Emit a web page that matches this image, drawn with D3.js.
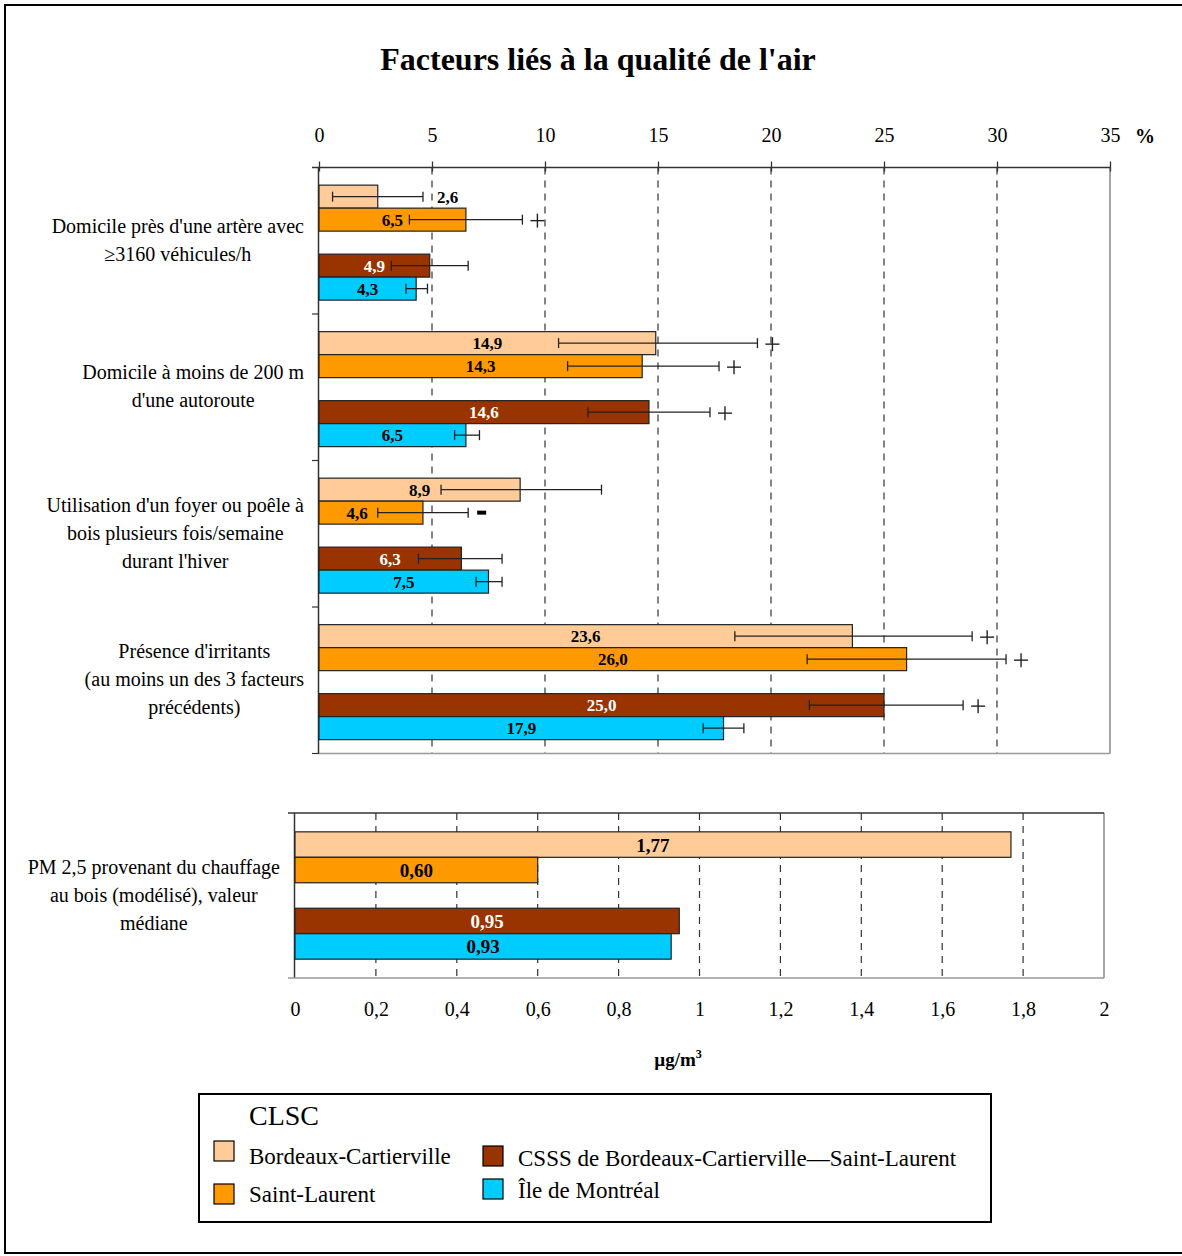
<!DOCTYPE html>
<html>
<head>
<meta charset="utf-8">
<script src="https://cdn.jsdelivr.net/npm/d3@7"></script>
<style>
  body { margin: 0; background: #fff; }
  text { font-family: "Liberation Serif", "Times New Roman", serif; }
</style>
</head>
<body>
<div id="chart"></div>
<script>
/* Facteurs liés à la qualité de l'air */

// categories (top chart), one label per group, lines split on "|"
const categories = [
  "Domicile près d'une artère avec|≥3160 véhicules/h",
  "Domicile à moins de 200 m|d'une autoroute",
  "Utilisation d'un foyer ou poêle à|bois plusieurs fois/semaine|durant l'hiver",
  "Présence d'irritants|(au moins un des 3 facteurs|précédents)"
];
const seriesNames = ["Bordeaux-Cartierville", "Saint-Laurent", "CSSS de Bordeaux-Cartierville\u2014Saint-Laurent", "Île de Montréal"];
const seriesColors = ["#FFCC99", "#FF9900", "#993300", "#00CCFF"];
const labelColors = ["#000", "#000", "#fff", "#000"];

// values (%)
const bcValues   = [2.6, 14.9, 8.9, 23.6];
const slValues   = [6.5, 14.3, 4.6, 26.0];
const csssValues = [4.9, 14.6, 6.3, 25.0];
const mtlValues  = [4.3, 6.5, 7.5, 17.9];

// confidence intervals
const bcLow    = [0.6, 10.6, 5.4, 18.4];
const bcHigh   = [4.6, 19.4, 12.5, 28.9];
const slLow    = [4.0, 11.0, 2.6, 21.6];
const slHigh   = [9.0, 17.7, 6.6, 30.4];
const csssLow  = [3.2, 11.9, 4.4, 21.7];
const csssHigh = [6.6, 17.3, 8.1, 28.5];
const mtlLow   = [3.85, 6.0, 6.95, 17.0];
const mtlHigh  = [4.8, 7.1, 8.1, 18.8];

// significance marks vs Montréal
const bcSig   = ["", "+", "", "+"];
const slSig   = ["+", "+", "-", "+"];
const csssSig = ["", "+", "", "+"];
const mtlSig  = ["", "", "", ""];

const pctTicks = [0, 5, 10, 15, 20, 25, 30, 35];

// bottom chart (µg/m3)
const pmLabel = "PM 2,5 provenant du chauffage|au bois (modélisé), valeur|médiane";
const pmValues = [1.77, 0.60, 0.95, 0.93];
const pmTicks = [0, 0.2, 0.4, 0.6, 0.8, 1, 1.2, 1.4, 1.6, 1.8, 2];

const width = 1182, height = 1256;
const fmt = d => String(d).replace(".", ",");
const fmt1 = d => d.toFixed(1).replace(".", ",");
const fmt2 = d => d.toFixed(2).replace(".", ",");

const svg = d3.select("#chart").append("svg")
  .attr("width", width).attr("height", height);

// outer frame
svg.append("rect")
  .attr("x", 5).attr("y", 5).attr("width", width - 4).attr("height", height - 8)
  .attr("fill", "none").attr("stroke", "#000").attr("stroke-width", 2);

svg.append("text")
  .attr("x", 598).attr("y", 70)
  .attr("text-anchor", "middle")
  .style("font-size", "32px").style("font-weight", "bold")
  .text("Facteurs liés à la qualité de l'air");

/* ---------- top chart ---------- */
const box1 = { x0: 319, x1: 1110, y0: 167.5, y1: 753.5 };

let x = d3.scaleLinear().domain([0, 35]).range([box1.x0, box1.x1]);
let yGroup = d3.scaleBand().domain(categories).range([box1.y0, box1.y1]);
let ySlot = d3.scaleBand().domain(["bc", "sl", "gap", "csss", "mtl"])
  .range([0, yGroup.bandwidth()]).paddingOuter(0.685).align(0.56);

// gridlines
svg.append("g").selectAll("line")
  .data(pctTicks.filter(d => d > 0 && d < 35))
  .join("line")
  .attr("x1", d => x(d)).attr("x2", d => x(d))
  .attr("y1", box1.y0).attr("y2", box1.y1)
  .attr("stroke", "#333").attr("stroke-width", 1.2)
  .attr("stroke-dasharray", "7,6");

// frame right/bottom
svg.append("line").attr("x1", box1.x1).attr("x2", box1.x1).attr("y1", box1.y0).attr("y2", box1.y1)
  .attr("stroke", "#888").attr("stroke-width", 1.5);
svg.append("line").attr("x1", box1.x0).attr("x2", box1.x1).attr("y1", box1.y1).attr("y2", box1.y1)
  .attr("stroke", "#999").attr("stroke-width", 1.5);

// top axis, ticks crossing the line
svg.append("g")
  .attr("transform", `translate(0,${box1.y0})`)
  .call(d3.axisTop(x).tickValues(pctTicks).tickSizeInner(6).tickSizeOuter(0).tickPadding(20).tickFormat(fmt))
  .call(g => g.select(".domain").attr("stroke", "#333").attr("stroke-width", 1.5)
    .attr("d", `M${box1.x0 - 7},0H${box1.x1}`))
  .call(g => g.selectAll(".tick line").attr("y2", -6).attr("y1", 4).attr("stroke", "#333").attr("stroke-width", 1.3))
  .call(g => g.selectAll("text").style("font-size", "20px").attr("fill", "#000")
    .style("font-family", "'Liberation Serif', serif"));

svg.append("text")
  .attr("x", 1145).attr("y", 143).attr("text-anchor", "middle")
  .style("font-size", "20px").style("font-weight", "bold").text("%");

// left axis with ticks at group boundaries
const bounds = categories.map(c => yGroup(c)).concat([box1.y1]);
svg.append("line").attr("x1", box1.x0 - 0.5).attr("x2", box1.x0 - 0.5)
  .attr("y1", box1.y0).attr("y2", box1.y1).attr("stroke", "#333").attr("stroke-width", 1.5);
svg.append("g").selectAll("line").data(bounds.slice(1)).join("line")
  .attr("x1", box1.x0 - 7).attr("x2", box1.x0).attr("y1", d => d).attr("y2", d => d)
  .attr("stroke", "#333").attr("stroke-width", 1.2);

// category labels: block right-aligned, lines centered in block
function blockLabel(parent, lines, rightX, cy) {
  const lh = 28;
  const g = parent.append("g");
  const t = g.selectAll("text").data(lines).join("text")
    .attr("y", (d, i) => cy + (i - (lines.length - 1) / 2) * lh + 6)
    .attr("text-anchor", "middle")
    .style("font-size", "20px")
    .text(d => d);
  let maxW = 0;
  t.each(function () { maxW = Math.max(maxW, this.getComputedTextLength()); });
  t.attr("x", rightX - maxW / 2);
}
categories.forEach(c => {
  blockLabel(svg, c.split("|"), 304, yGroup(c) + yGroup.bandwidth() / 2);
});

// bars
const slotKeys = ["bc", "sl", "csss", "mtl"];
const valueSets = [bcValues, slValues, csssValues, mtlValues];
const lowSets = [bcLow, slLow, csssLow, mtlLow];
const highSets = [bcHigh, slHigh, csssHigh, mtlHigh];
const sigSets = [bcSig, slSig, csssSig, mtlSig];

let rows = [];
categories.forEach((c, ci) => {
  slotKeys.forEach((k, si) => {
    rows.push({
      cat: c, slot: k, si: si,
      value: valueSets[si][ci], low: lowSets[si][ci], high: highSets[si][ci], sig: sigSets[si][ci]
    });
  });
});

const bh = ySlot.bandwidth();
let bar = svg.selectAll(".bar").data(rows).join("g").attr("class", "bar")
  .attr("transform", d => `translate(0,${yGroup(d.cat) + ySlot(d.slot)})`);

bar.append("rect")
  .attr("x", x(0)).attr("y", 0)
  .attr("width", d => x(d.value) - x(0)).attr("height", bh)
  .attr("fill", d => seriesColors[d.si])
  .attr("stroke", "#222").attr("stroke-width", 1.2);

// value labels: centred in the bar, moved clear of the error bar when needed
bar.append("text")
  .attr("y", bh / 2 + 6)
  .attr("fill", d => d.value < 3 ? "#000" : labelColors[d.si])
  .style("font-size", "17px").style("font-weight", "bold")
  .text(d => fmt1(d.value))
  .each(function (d) {
    const w = this.getComputedTextLength();
    let cx = (x(0) + x(d.value)) / 2;
    if (d.value < 3) cx = x(d.high) + 14 + w / 2;
    else if (cx + w / 2 > x(d.low) - 6) cx = x(d.low) - 10 - w / 2;
    d3.select(this).attr("x", cx).attr("text-anchor", "middle");
  });

// error bars
const eb = bar.append("g").attr("stroke", "#222").attr("stroke-width", 1.3);
eb.append("line").attr("x1", d => x(d.low)).attr("x2", d => x(d.high)).attr("y1", bh / 2).attr("y2", bh / 2);
eb.append("line").attr("x1", d => x(d.low)).attr("x2", d => x(d.low)).attr("y1", bh / 2 - 5).attr("y2", bh / 2 + 5);
eb.append("line").attr("x1", d => x(d.high)).attr("x2", d => x(d.high)).attr("y1", bh / 2 - 5).attr("y2", bh / 2 + 5);

// significance marks
const plus = bar.filter(d => d.sig === "+").append("g")
  .attr("transform", d => `translate(${x(d.high) + 15},${bh / 2 + 1})`)
  .attr("stroke", "#222").attr("stroke-width", 1.4);
plus.append("line").attr("x1", -7).attr("x2", 7).attr("y1", 0).attr("y2", 0);
plus.append("line").attr("x1", 0).attr("x2", 0).attr("y1", -7).attr("y2", 7);

bar.filter(d => d.sig === "-").append("rect")
  .attr("x", d => x(d.high) + 9).attr("y", bh / 2 - 2)
  .attr("width", 9).attr("height", 4).attr("fill", "#000");

/* ---------- bottom chart ---------- */
const box2 = { x0: 295, x1: 1104, y0: 813, y1: 978 };
let x2 = d3.scaleLinear().domain([0, 2]).range([box2.x0, box2.x1]);
let y2 = d3.scaleBand().domain(["bc", "sl", "gap", "csss", "mtl"])
  .range([box2.y0, box2.y1]).paddingOuter(0.74);

svg.append("g").selectAll("line")
  .data(pmTicks.filter(d => d > 0 && d < 2))
  .join("line")
  .attr("x1", d => x2(d)).attr("x2", d => x2(d))
  .attr("y1", box2.y0).attr("y2", box2.y1)
  .attr("stroke", "#333").attr("stroke-width", 1.2)
  .attr("stroke-dasharray", "7,6");

svg.append("line").attr("x1", box2.x1).attr("x2", box2.x1).attr("y1", box2.y0).attr("y2", box2.y1)
  .attr("stroke", "#888").attr("stroke-width", 1.5);
svg.append("line").attr("x1", box2.x0 - 7).attr("x2", box2.x1).attr("y1", box2.y0).attr("y2", box2.y0)
  .attr("stroke", "#333").attr("stroke-width", 1.5);
svg.append("line").attr("x1", box2.x0 - 0.5).attr("x2", box2.x0 - 0.5).attr("y1", box2.y0).attr("y2", box2.y1)
  .attr("stroke", "#333").attr("stroke-width", 1.5);

svg.append("g")
  .attr("transform", `translate(0,${box2.y1})`)
  .call(d3.axisBottom(x2).tickValues(pmTicks).tickSizeInner(0).tickSizeOuter(0).tickPadding(24).tickFormat(fmt))
  .call(g => g.select(".domain").attr("stroke", "#999").attr("stroke-width", 1.5)
    .attr("d", `M${box2.x0 - 7},0H${box2.x1}`))
  .call(g => g.selectAll("text").style("font-size", "20px").attr("fill", "#000")
    .style("font-family", "'Liberation Serif', serif"));

blockLabel(svg, pmLabel.split("|"), 280, (box2.y0 + box2.y1) / 2);

const pmRows = pmValues.map((v, i) => ({ slot: slotKeys[i], si: i, value: v }));
let pmBar = svg.selectAll(".pmbar").data(pmRows).join("g").attr("class", "pmbar")
  .attr("transform", d => `translate(0,${y2(d.slot)})`);
pmBar.append("rect")
  .attr("x", x2(0)).attr("width", d => x2(d.value) - x2(0))
  .attr("height", y2.bandwidth())
  .attr("fill", d => seriesColors[d.si])
  .attr("stroke", "#222").attr("stroke-width", 1.2);
pmBar.append("text")
  .attr("x", d => (x2(0) + x2(d.value)) / 2)
  .attr("y", y2.bandwidth() / 2 + 7)
  .attr("text-anchor", "middle")
  .attr("fill", d => labelColors[d.si])
  .style("font-size", "19px").style("font-weight", "bold")
  .text(d => fmt2(d.value));

const unit = svg.append("text")
  .attr("x", 678).attr("y", 1066).attr("text-anchor", "middle")
  .style("font-size", "19px").style("font-weight", "bold");
unit.append("tspan").text("µg/m");
unit.append("tspan").attr("dy", -8).style("font-size", "12px").text("3");

/* ---------- legend ---------- */
const lg = svg.append("g");
lg.append("rect").attr("x", 199).attr("y", 1094).attr("width", 792).attr("height", 128)
  .attr("fill", "#fff").attr("stroke", "#000").attr("stroke-width", 2);
lg.append("text").attr("x", 249).attr("y", 1125).style("font-size", "28px").text("CLSC");

const legendPos = [
  { x: 214, y: 1141, ty: 23 }, { x: 214, y: 1184, ty: 18 },
  { x: 483, y: 1146, ty: 20 }, { x: 483, y: 1179, ty: 19 }
];
let item = lg.selectAll(".item").data(seriesNames).join("g").attr("class", "item")
  .attr("transform", (d, i) => `translate(${legendPos[i].x},${legendPos[i].y})`);
item.append("rect").attr("width", 20).attr("height", 20)
  .attr("fill", (d, i) => seriesColors[i]).attr("stroke", "#000").attr("stroke-width", 1.2);
item.append("text").attr("x", 35).attr("y", (d, i) => legendPos[i].ty)
  .style("font-size", "23px").text(d => d);
</script>
</body>
</html>
